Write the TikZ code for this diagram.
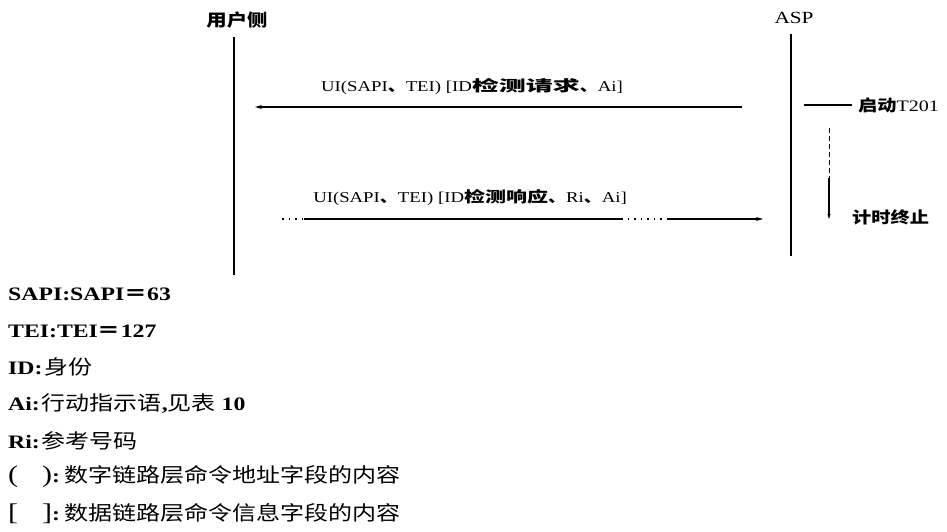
\documentclass[tikz,border=0pt]{standalone}
\usepackage{fontspec}
\setmainfont[FakeStretch=1.25]{Liberation Serif}
\newfontfamily\cjk[FakeStretch=1.2]{Noto Sans CJK SC}
\newfontfamily\cjkw[FakeStretch=1.8]{Noto Sans CJK SC}
\newfontfamily\cjkm[FakeStretch=1.4]{Noto Sans CJK SC}
\usetikzlibrary{arrows.meta}
\begin{document}
\begin{tikzpicture}[x=1pt,y=-1pt,
  life/.style={line width=1.3pt},
  msg/.style={line width=1.1pt},
  dots/.style={line width=1.1pt, dash pattern=on 1.5pt off 5pt},
  tip/.style={-{Stealth[length=7pt,width=4pt]}},
  head/.style={inner sep=0pt},
  mlabel/.style={inner sep=0pt, font=\fontsize{15}{15}\selectfont},
  side/.style={inner sep=0pt, anchor=west, font=\fontsize{16}{16}\selectfont},
  legend/.style={inner sep=0pt, anchor=west, font=\fontsize{19}{19}\selectfont\bfseries}]
\useasboundingbox (0,0) rectangle (947,532);
% heads
\node[head, font=\cjk\bfseries\fontsize{17}{17}\selectfont] (user) at (237,20) {用户侧};
\node[head, font=\fontsize{17}{17}\selectfont] (asp) at (794,18) {ASP};
% lifelines
\coordinate (ut) at (234,37);
\coordinate (ub) at (234,275);
\coordinate (at) at (791,34);
\coordinate (ab) at (791,256);
\draw[life] (ut) -- (ub);
\draw[life] (at) -- (ab);
% message 1
\coordinate (m1a) at (742,107);
\coordinate (m1b) at (255,107);
\draw[msg,tip] (m1a) -- (m1b);
\node[mlabel] (l1) at (472,87) {UI(SAPI{\cjk\bfseries 、}TEI) [ID{\cjkw\bfseries 检测请求}{\cjk\bfseries 、}Ai]};
% message 2
\coordinate (m2s) at (282,219);
\coordinate (m2a) at (304,219);
\coordinate (m2b) at (621,219);
\coordinate (m2c) at (668,219);
\coordinate (m2e) at (763,219);
\draw[dots] (m2s) -- (m2a);
\draw[msg] (m2a) -- (m2b);
\draw[dots] (m2b) -- (m2c);
\draw[msg,tip] (m2c) -- (m2e);
\node[mlabel] (l2) at (470,198) {UI(SAPI{\cjk\bfseries 、}TEI) [ID{\cjkm\bfseries 检测响应}{\cjk\bfseries 、}Ri{\cjk\bfseries 、}Ai]};
% timer
\coordinate (t0) at (804,105);
\coordinate (t1) at (852,105);
\draw[msg] (t0) -- (t1);
\node[side] (start) at (858,105) {{\cjk\bfseries 启动}T201};
\coordinate (tv0) at (829,128);
\coordinate (tv1) at (829,178);
\coordinate (tv2) at (829,219);
\draw[line width=1pt, dash pattern=on 5pt off 3pt] (tv0) -- (tv1);
\draw[msg,-{Stealth[length=5pt,width=3pt]}] (tv1) -- (tv2);
\node[side, font=\cjk\bfseries\fontsize{16}{16}\selectfont] (stop) at (852,217) {计时终止};
% legend
\newcommand\lc[1]{{\cjk\mdseries\fontsize{20}{20}\selectfont #1}}
\node[legend] (g1) at (8,294) {SAPI:SAPI{\cjk ＝}63};
\node[legend] (g2) at (8,331) {TEI:TEI{\cjk ＝}127};
\node[legend] (g3) at (8,367) {ID:\hspace{2pt}\lc{身份}};
\node[legend] (g4) at (8,404) {Ai:\hspace{2pt}\lc{行动指示语},\lc{见表} 10};
\node[legend] (g5) at (8,441) {Ri:\hspace{2pt}\lc{参考号码}};
\node[legend] (g6) at (8,477) {{\mdseries\fontsize{24}{24}\selectfont(\hspace{24pt})}:\hspace{4pt}\lc{数字链路层命令地址字段的内容}};
\node[legend] (g7) at (8,514) {{\mdseries\fontsize{24}{24}\selectfont[\hspace{24pt}]}:\hspace{4pt}\lc{数据链路层命令信息字段的内容}};
\end{tikzpicture}
\end{document}
